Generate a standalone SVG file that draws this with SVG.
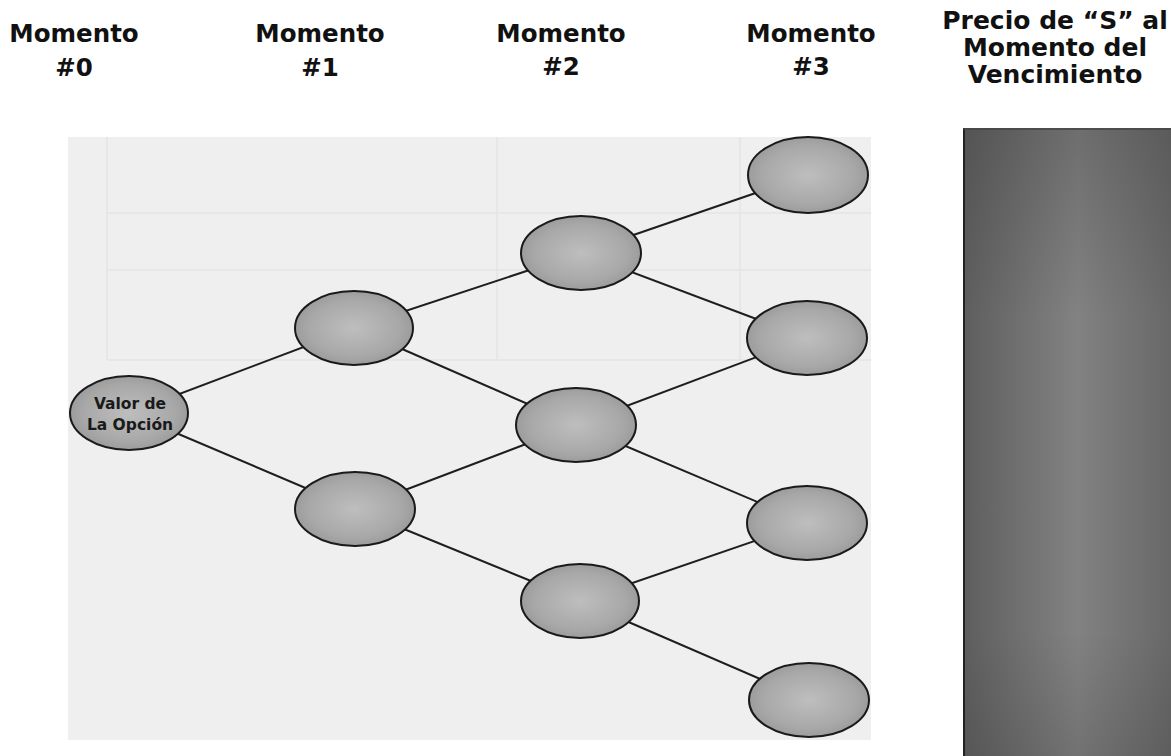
<svg xmlns="http://www.w3.org/2000/svg" width="1171" height="756" viewBox="0 0 1171 756">
  <defs>
    <radialGradient id="nodeFill" cx="50%" cy="50%" r="55%">
      <stop offset="0" stop-color="#bebebe"/>
      <stop offset="0.7" stop-color="#a8a8a8"/>
      <stop offset="1" stop-color="#979797"/>
    </radialGradient>
    <linearGradient id="barFill" x1="0" y1="0" x2="1" y2="0">
      <stop offset="0" stop-color="#5e5e5e"/>
      <stop offset="0.55" stop-color="#828282"/>
      <stop offset="1" stop-color="#686868"/>
    </linearGradient>
    <linearGradient id="barShade" x1="0" y1="0" x2="0" y2="1">
      <stop offset="0" stop-color="#333" stop-opacity="0.25"/>
      <stop offset="0.3" stop-color="#333" stop-opacity="0"/>
      <stop offset="0.8" stop-color="#333" stop-opacity="0"/>
      <stop offset="1" stop-color="#333" stop-opacity="0.2"/>
    </linearGradient>
  </defs>
  <style>
    .hdr { font-family: "DejaVu Sans", Verdana, sans-serif; font-weight: bold; font-size: 24.5px; fill: #111; text-anchor: middle; }
    .hdr2 { font-family: "DejaVu Sans", Verdana, sans-serif; font-weight: bold; font-size: 25px; fill: #111; text-anchor: middle; }
    .node { fill: url(#nodeFill); stroke: #1a1a1a; stroke-width: 2; }
    .lbl { font-family: "DejaVu Sans", Verdana, sans-serif; font-weight: bold; font-size: 15.5px; fill: #1a1a1a; text-anchor: middle; }
    .edge { stroke: #1e1e1e; stroke-width: 2; fill: none; }
    .faint { stroke: #e5e5e5; stroke-width: 1.5; fill: none; }
  </style>
  <rect width="1171" height="756" fill="#ffffff"/>

  <!-- scanned background -->
  <g id="background">
    <rect x="68" y="137" width="803" height="603" fill="#efefef"/>
    <path class="faint" d="M107 137 V360 M497 137 V360 M740 137 V360 M107 213 H871 M107 270 H871 M107 360 H871"/>
  </g>

  <!-- headers -->
  <g id="headers">
    <text class="hdr" x="74" y="42">Momento</text>
    <text class="hdr" x="74" y="76">#0</text>
    <text class="hdr" x="320" y="42">Momento</text>
    <text class="hdr" x="320" y="76">#1</text>
    <text class="hdr" x="561" y="42">Momento</text>
    <text class="hdr" x="561" y="75">#2</text>
    <text class="hdr" x="811" y="42">Momento</text>
    <text class="hdr" x="811" y="75">#3</text>
    <text class="hdr2" x="1055" y="29">Precio de “S” al</text>
    <text class="hdr2" x="1055" y="56">Momento del</text>
    <text class="hdr2" x="1055" y="83">Vencimiento</text>
  </g>

  <!-- maturity price bar -->
  <g id="price-bar">
    <rect x="963" y="128" width="208" height="628" fill="url(#barFill)"/>
    <rect x="963" y="128" width="208" height="628" fill="url(#barShade)"/>
    <line x1="964" y1="128" x2="964" y2="756" stroke="#222" stroke-width="2"/>
    <line x1="963" y1="129" x2="1171" y2="129" stroke="#444" stroke-width="1.5"/>
  </g>

  <!-- connectors -->
  <g id="connectors">
    <line class="edge" x1="129" y1="413" x2="354" y2="328"/>
    <line class="edge" x1="129" y1="413" x2="355" y2="509"/>
    <line class="edge" x1="354" y1="328" x2="581" y2="253"/>
    <line class="edge" x1="354" y1="328" x2="576" y2="425"/>
    <line class="edge" x1="355" y1="509" x2="576" y2="425"/>
    <line class="edge" x1="355" y1="509" x2="580" y2="601"/>
    <line class="edge" x1="581" y1="253" x2="808" y2="175"/>
    <line class="edge" x1="581" y1="253" x2="807" y2="338"/>
    <line class="edge" x1="576" y1="425" x2="807" y2="338"/>
    <line class="edge" x1="576" y1="425" x2="807" y2="523"/>
    <line class="edge" x1="580" y1="601" x2="807" y2="523"/>
    <line class="edge" x1="580" y1="601" x2="809" y2="700"/>
  </g>

  <!-- nodes -->
  <g id="node-root">
    <ellipse class="node" cx="129" cy="413" rx="59" ry="37"/>
    <text class="lbl" x="130" y="409">Valor de</text>
    <text class="lbl" x="130" y="430">La Opción</text>
  </g>
  <g id="node-1-up"><ellipse class="node" cx="354" cy="328" rx="59" ry="37"/></g>
  <g id="node-1-down"><ellipse class="node" cx="355" cy="509" rx="60" ry="37"/></g>
  <g id="node-2-top"><ellipse class="node" cx="581" cy="253" rx="60" ry="37"/></g>
  <g id="node-2-mid"><ellipse class="node" cx="576" cy="425" rx="60" ry="37"/></g>
  <g id="node-2-bot"><ellipse class="node" cx="580" cy="601" rx="59" ry="37"/></g>
  <g id="node-3-a"><ellipse class="node" cx="808" cy="175" rx="60" ry="38"/></g>
  <g id="node-3-b"><ellipse class="node" cx="807" cy="338" rx="60" ry="37"/></g>
  <g id="node-3-c"><ellipse class="node" cx="807" cy="523" rx="60" ry="37"/></g>
  <g id="node-3-d"><ellipse class="node" cx="809" cy="700" rx="60" ry="37"/></g>
</svg>
